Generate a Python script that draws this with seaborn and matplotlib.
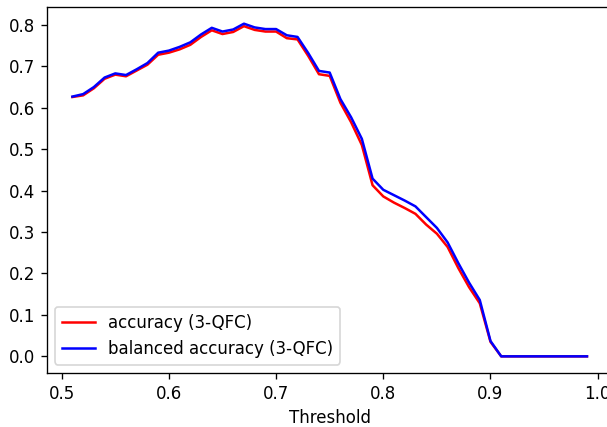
import numpy as np
import pandas as pd
import seaborn as sns
import matplotlib
matplotlib.use("Agg")
import matplotlib.pyplot as plt

# thresholds 0.51 .. 0.99
threshold = [0.51, 0.52, 0.53, 0.54, 0.55, 0.56, 0.57, 0.58, 0.59, 0.60,
             0.61, 0.62, 0.63, 0.64, 0.65, 0.66, 0.67, 0.68, 0.69, 0.70,
             0.71, 0.72, 0.73, 0.74, 0.75, 0.76, 0.77, 0.78, 0.79, 0.80,
             0.81, 0.82, 0.83, 0.84, 0.85, 0.86, 0.87, 0.88, 0.89, 0.90,
             0.91, 0.92, 0.93, 0.94, 0.95, 0.96, 0.97, 0.98, 0.99]

accuracy = [0.626, 0.630, 0.647, 0.670, 0.680, 0.676, 0.690, 0.704, 0.728, 0.733,
            0.741, 0.752, 0.771, 0.787, 0.778, 0.783, 0.797, 0.788, 0.784, 0.784,
            0.768, 0.765, 0.725, 0.681, 0.677, 0.612, 0.565, 0.510, 0.413, 0.386,
            0.371, 0.358, 0.344, 0.318, 0.296, 0.264, 0.213, 0.167, 0.128, 0.035,
            0.0, 0.0, 0.0, 0.0, 0.0, 0.0, 0.0, 0.0, 0.0]

balanced = [0.627, 0.633, 0.650, 0.673, 0.683, 0.679, 0.693, 0.708, 0.733, 0.738,
            0.747, 0.758, 0.777, 0.793, 0.784, 0.789, 0.803, 0.794, 0.790, 0.790,
            0.775, 0.771, 0.732, 0.689, 0.685, 0.621, 0.577, 0.525, 0.429, 0.402,
            0.389, 0.376, 0.362, 0.336, 0.310, 0.275, 0.225, 0.178, 0.136, 0.037,
            0.0, 0.0, 0.0, 0.0, 0.0, 0.0, 0.0, 0.0, 0.0]

df = pd.DataFrame({"Threshold": threshold, "acc": accuracy, "bacc": balanced})

# rendered at 120 dpi so fonts/lines come out a bit bigger, like the original
dpi = 120
fig = plt.figure(figsize=(607 / dpi, 427 / dpi), dpi=dpi)
ax = fig.add_axes([0.0769, 0.1265, 0.9325, 0.857])

sns.lineplot(data=df, x="Threshold", y="acc", color="red", label="accuracy (3-QFC)", ax=ax)
sns.lineplot(data=df, x="Threshold", y="bacc", color="blue", label="balanced accuracy (3-QFC)", ax=ax)

ax.set_ylabel("")
ax.set_xlabel("Threshold")
ax.legend(loc="lower left")

fig.savefig("out.png", dpi=dpi)
